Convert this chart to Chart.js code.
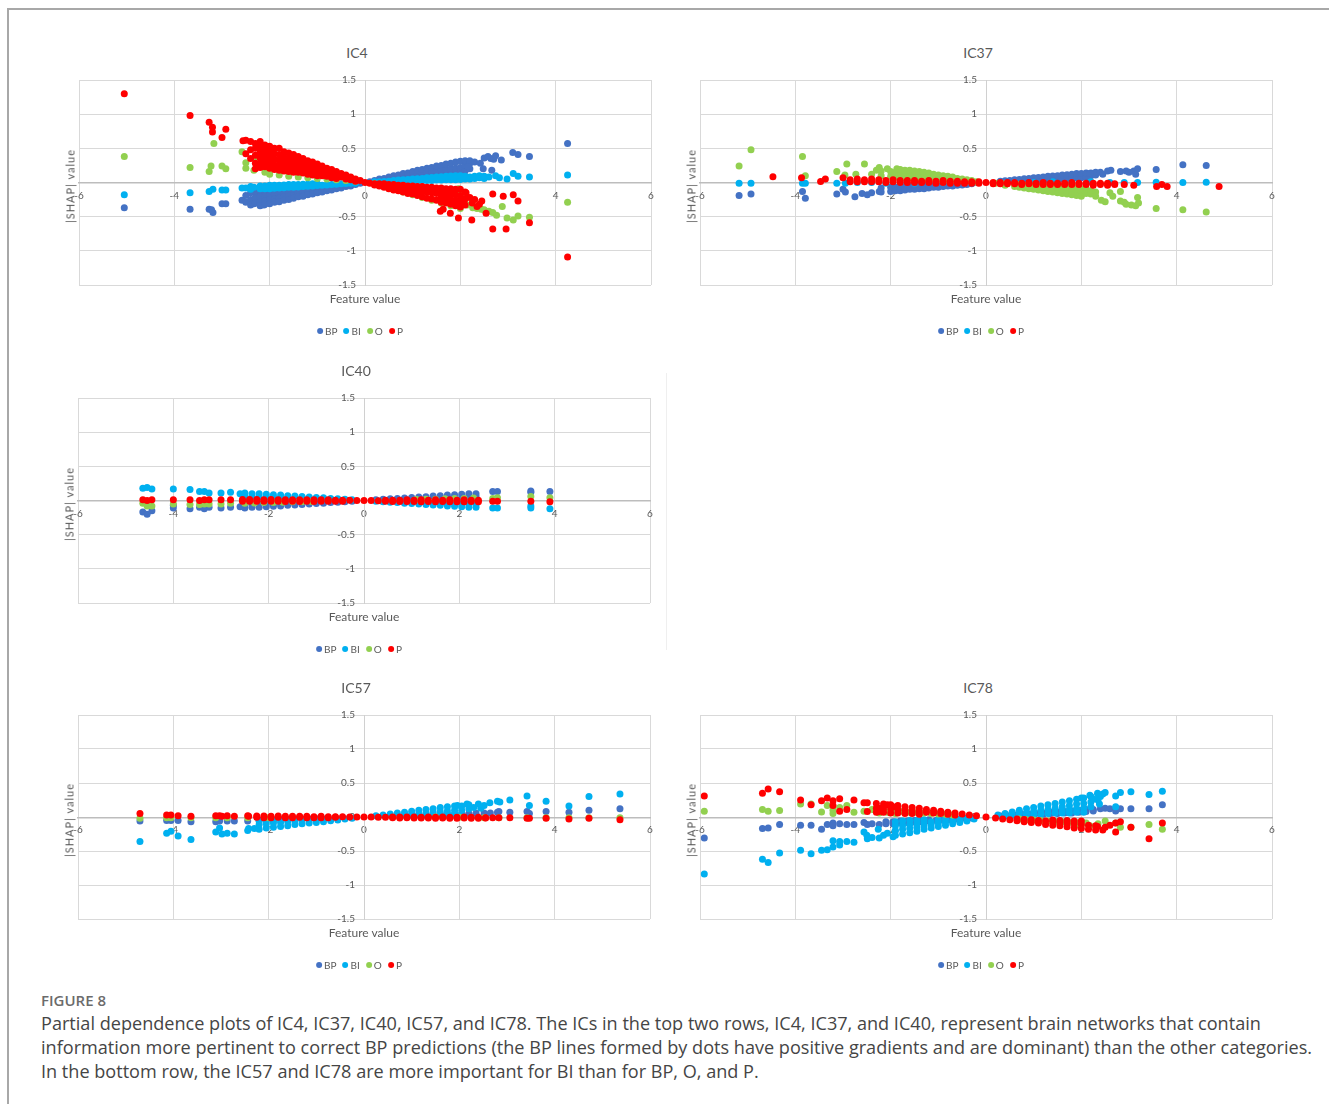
<!DOCTYPE html>
<html><head><meta charset="utf-8">
<script src="https://cdn.jsdelivr.net/npm/chart.js@4.4.1/dist/chart.umd.min.js"></script>
<style>
html,body{margin:0;padding:0;background:#fff;}
#page{position:relative;width:1329px;height:1104px;overflow:hidden;font-family:Lato,"Open Sans",sans-serif;}
#frame{position:absolute;left:7px;top:8px;right:-4px;bottom:-4px;border-left:2px solid #a8a8a8;border-top:2px solid #a8a8a8;}
.cv{position:absolute;}
.ttl{position:absolute;font-size:14px;color:#595959;transform:translate(-50%,-50%);white-space:nowrap;}
.xt{position:absolute;font-size:12px;color:#595959;transform:translate(-50%,-50%);white-space:nowrap;}
.yt{position:absolute;font-size:11px;letter-spacing:1px;color:#595959;transform:translate(-50%,-50%) rotate(-90deg);white-space:nowrap;}
.lg{position:absolute;transform:translate(-50%,-50%);font-size:10px;color:#595959;display:flex;align-items:center;white-space:nowrap;}
.lg .m{display:inline-block;width:6px;height:6px;border-radius:50%;margin-right:2px;}
.lg .t{margin-right:6px;}
.lg .t:last-child{margin-right:0;}
#sep{position:absolute;left:666px;top:373px;width:1px;height:277px;background:#efefef;}
#figlab{position:absolute;left:41px;top:990px;font-family:"Open Sans";font-size:15px;color:#6b6b6b;font-weight:600;}
#cap{position:absolute;left:41px;top:1011px;font-family:"Open Sans";font-size:18.1px;line-height:24px;color:#454545;white-space:nowrap;}
</style></head>
<body><div id="page"><div id="frame"></div><div id="sep"></div>
<div id="figlab">FIGURE 8</div>
<div id="cap">Partial dependence plots of IC4, IC37, IC40, IC57, and IC78. The ICs in the top two rows, IC4, IC37, and IC40, represent brain networks that contain<br>information more pertinent to correct BP predictions (the BP lines formed by dots have positive gradients and are dominant) than the other categories.<br>In the bottom row, the IC57 and IC78 are more important for BI than for BP, O, and P.</div>
</div>
<script>
// ---- categories and ticks ----
const categories = ['BP','BI','O','P'];
const xTicks = [-6,-4,-2,0,2,4,6];
const yTicks = [-1.5,-1,-0.5,0,0.5,1,1.5];
const chartTitles = ['IC4','IC37','IC40','IC57','IC78'];
// ---- data: each entry is [featureValue, shap1, shap2, ...] ----
const ic4BP = [[-5.05,-0.37],[-3.67,-0.39],[-3.27,-0.39],[-3.19,-0.44],[-3.22,-0.4],[-3.0,-0.31],[-2.92,-0.31],[-2.58,-0.26],[-2.5,-0.19,-0.29],[-2.33,-0.31],[-2.27,-0.2],[-2.12,-0.33],
[-2.4,-0.15,-0.25,-0.33],[-2.3,-0.14,-0.22,-0.3],[-2.2,-0.13,-0.21,-0.29,-0.34],[-2.1,-0.13,-0.2,-0.27,-0.32],[-2.0,-0.12,-0.19,-0.25,-0.31],[-1.9,-0.11,-0.18,-0.24,-0.29],[-1.8,-0.11,-0.17,-0.23,-0.28],[-1.7,-0.1,-0.16,-0.21,-0.26],[-1.6,-0.1,-0.15,-0.2,-0.25],[-1.5,-0.09,-0.14,-0.19,-0.23],[-1.4,-0.08,-0.14,-0.21],[-1.3,-0.08,-0.13,-0.2],[-1.2,-0.07,-0.12,-0.18],[-1.1,-0.07,-0.11,-0.17],[-1.0,-0.06,-0.1,-0.15],[-0.9,-0.05,-0.09,-0.14],[-0.8,-0.05,-0.08,-0.12],[-0.7,-0.04,-0.07,-0.11],[-0.6,-0.04,-0.09],[-0.5,-0.03,-0.08],[-0.4,-0.02,-0.06],[-0.3,-0.02,-0.05],[-0.2,-0.01,-0.03],[-0.1,-0.01],
[0.1,0.01],[0.2,0.015,0.03],[0.3,0.02,0.05],[0.4,0.03,0.06],[0.5,0.035,0.08],[0.6,0.04,0.07,0.1],[0.7,0.05,0.08,0.11],[0.8,0.06,0.09,0.13],[0.9,0.06,0.1,0.14],[1.0,0.07,0.11,0.16],[1.1,0.08,0.13,0.18],[1.2,0.08,0.14,0.19],[1.3,0.09,0.15,0.21],[1.4,0.1,0.16,0.22],[1.5,0.11,0.17,0.24],[1.6,0.11,0.18,0.25],[1.7,0.12,0.19,0.27],[1.8,0.13,0.2,0.28],[1.9,0.13,0.21,0.3],[2.0,0.14,0.22,0.31],[2.1,0.17,0.25,0.32],[2.2,0.2,0.28,0.32],
[2.16,0.23],[2.3,0.3],[2.42,0.28],[2.48,0.2],[2.5,0.36],[2.58,0.38],[2.64,0.35],[2.66,0.18],[2.7,0.34],[2.74,0.39],[2.86,0.33],[3.1,0.44],[3.21,0.41],[3.45,0.38],[4.25,0.57]];
const ic4BI = [[-5.05,-0.18],[-3.67,-0.15],[-3.27,-0.13],[-3.19,-0.1],[-3.0,-0.11],[-2.92,-0.11],[-2.58,-0.08],[-2.5,-0.08],[-2.33,-0.07],
[-2.4,-0.06,-0.1],[-2.2,-0.05,-0.09],[-2.1,-0.05,-0.09],[-2.0,-0.04,-0.09],[-1.9,-0.04,-0.085],[-1.8,-0.04,-0.08],[-1.7,-0.035,-0.075],[-1.6,-0.03,-0.07],[-1.5,-0.03,-0.07],[-1.4,-0.03,-0.065],[-1.3,-0.025,-0.06],[-1.2,-0.025,-0.055],[-1.1,-0.02,-0.05],[-1.0,-0.02,-0.045],[-0.9,-0.04],[-0.8,-0.035],[-0.7,-0.03],[-0.6,-0.025],[-0.5,-0.02],[-0.4,-0.015],[-0.3,-0.01],[-0.2,-0.01],
[0.2,0.01],[0.3,0.01],[0.4,0.015],[0.5,0.02],[0.6,0.02,0.03],[0.7,0.02,0.035],[0.8,0.02,0.04],[0.9,0.02,0.045],[1.0,0.02,0.05],[1.1,0.025,0.055],[1.2,0.03,0.06],[1.3,0.03,0.07],[1.4,0.03,0.075],[1.5,0.035,0.08],[1.6,0.035,0.085],[1.7,0.04,0.09],[1.8,0.04,0.095],[1.9,0.04,0.1],[2.0,0.045,0.1],[2.1,0.05,0.09],[2.2,0.05,0.08],[2.3,0.06,0.09],[2.4,0.07,0.1],[2.5,0.06,0.09],[2.6,0.08],
[2.74,0.1],[2.82,0.07],[2.98,0.05],[3.11,0.13],[3.21,0.09],[3.45,0.08],[4.25,0.11]];
const ic4O = [[-5.05,0.38],[-3.67,0.22],[-3.27,0.16],[-3.23,0.24],[-3.17,0.57],[-3.0,0.24],[-2.92,0.2],[-2.58,0.45],[-2.5,0.29,0.21],[-2.33,0.18],[-2.28,0.35],[-2.23,0.25],[-2.19,0.39],[-2.1,0.15],
[-2.0,0.12,0.24,0.33],[-1.8,0.11,0.2],[-1.6,0.09,0.19],[-1.4,0.08,0.17],[-1.2,0.07,0.14],[-1.0,0.06,0.12],[-0.8,0.05,0.1],[-0.6,0.04,0.07],[-0.4,0.03,0.05],[-0.2,0.02],
[0.2,-0.02],[0.4,-0.04],[0.6,-0.06,-0.1],[0.8,-0.08,-0.14],[1.0,-0.1,-0.18],[1.2,-0.12,-0.22],[1.4,-0.14,-0.26],[1.6,-0.15,-0.3],[1.8,-0.16,-0.34],[1.96,-0.09],[1.99,-0.29],[2.0,-0.18,-0.38],[2.05,-0.31],[2.15,-0.33],[2.26,-0.37],[2.35,-0.38],[2.44,-0.39],[2.5,-0.4],[2.6,-0.42],[2.68,-0.44],[2.76,-0.48],[2.88,-0.35],[2.98,-0.52],[3.11,-0.55],[3.21,-0.49],[3.45,-0.51],[4.25,-0.29]];
const ic4P = [[-5.05,1.3],[-3.67,0.98],[-3.27,0.88],[-3.2,0.81,0.74],[-3.0,0.66],[-2.92,0.78],[-2.56,0.61],[-2.5,0.62,0.42],
[-2.4,0.6,0.48,0.35],[-2.3,0.57,0.5,0.4,0.28,0.2],[-2.2,0.6,0.52,0.44,0.36,0.27,0.22],[-2.1,0.55,0.47,0.39,0.31,0.23],[-2.0,0.53,0.45,0.37,0.29,0.21],[-1.9,0.5,0.42,0.34,0.26,0.19],[-1.8,0.5,0.41,0.33,0.25,0.18],[-1.7,0.45,0.37,0.3,0.23,0.17],[-1.6,0.43,0.35,0.28,0.21,0.16],[-1.5,0.41,0.33,0.26,0.2,0.15],[-1.4,0.38,0.3,0.23,0.15],[-1.3,0.35,0.28,0.21,0.14],[-1.2,0.32,0.25,0.18,0.12],[-1.1,0.3,0.23,0.16,0.11],[-1.0,0.27,0.2,0.14,0.1],[-0.9,0.24,0.17,0.1],[-0.8,0.21,0.15,0.09],[-0.7,0.19,0.13,0.07],[-0.6,0.16,0.11,0.06],[-0.5,0.13,0.08],[-0.4,0.11,0.05],[-0.3,0.08,0.04],[-0.2,0.05,0.02],[-0.1,0.03],[0,0],
[0.1,-0.01],[0.2,-0.02,-0.035],[0.3,-0.02,-0.05],[0.4,-0.02,-0.07],[0.5,-0.03,-0.06,-0.09],[0.6,-0.03,-0.07,-0.11],[0.7,-0.04,-0.08,-0.12],[0.8,-0.04,-0.09,-0.14],[0.9,-0.05,-0.1,-0.16],[1.0,-0.05,-0.11,-0.17],[1.1,-0.06,-0.12,-0.19],[1.2,-0.06,-0.13,-0.21],[1.3,-0.07,-0.14,-0.23],[1.4,-0.07,-0.15,-0.24],[1.5,-0.08,-0.16,-0.26],[1.6,-0.08,-0.15,-0.22,-0.29],[1.7,-0.09,-0.16,-0.23,-0.3],[1.8,-0.09,-0.17,-0.25,-0.32],[1.9,-0.1,-0.18,-0.26,-0.34],[2.0,-0.1,-0.19,-0.27,-0.36],[2.1,-0.14,-0.24,-0.33],
[1.58,-0.42],[1.64,-0.39],[1.79,-0.45],[1.96,-0.52],[2.12,-0.15],[2.2,-0.22],[2.25,-0.3],[2.24,-0.55],[2.3,-0.25],[2.35,-0.35],[2.4,-0.32],[2.45,-0.27],[2.54,-0.45],[2.68,-0.17,-0.68],[2.9,-0.2],[2.96,-0.68],[3.11,-0.18],[3.21,-0.27],[3.45,-0.59],[4.25,-1.09]];

const ic37BP = [[-5.18,-0.19],[-4.93,-0.17],[-3.85,-0.13],[-3.79,-0.23],[-3.13,-0.17],[-3.0,-0.1],[-2.95,-0.14],[-2.75,-0.21],[-2.6,-0.16],[-2.49,-0.18],[-2.4,-0.15],[-2.24,-0.13],
[-2.2,-0.08,-0.14],[-2.0,-0.07,-0.13],[-1.9,-0.07,-0.12],[-1.8,-0.06,-0.12],[-1.7,-0.06,-0.11],[-1.6,-0.05,-0.1],[-1.5,-0.05,-0.1],[-1.4,-0.05,-0.09],[-1.3,-0.04,-0.09],[-1.2,-0.04,-0.08],[-1.1,-0.04,-0.07],[-1.0,-0.03,-0.07],[-0.9,-0.06],[-0.8,-0.05],[-0.7,-0.05],[-0.6,-0.04],[-0.5,-0.035],[-0.4,-0.03],[-0.3,-0.02],
[0.3,0.02],[0.4,0.025],[0.5,0.03],[0.6,0.04],[0.7,0.045],[0.8,0.03,0.055],[0.9,0.03,0.06],[1.0,0.035,0.07],[1.1,0.04,0.075],[1.2,0.04,0.08],[1.3,0.045,0.09],[1.4,0.05,0.095],[1.5,0.05,0.1],[1.6,0.055,0.11],[1.7,0.06,0.115],[1.8,0.06,0.12],[1.9,0.065,0.13],[2.0,0.07,0.13],[2.1,0.08,0.14],[2.2,0.1,0.14],[2.3,0.11,0.15],
[2.18,0.13],[2.4,0.15],[2.45,0.12],[2.55,0.17],[2.62,0.18],[2.82,0.16],[2.94,0.17],[3.0,0.15],[3.1,0.17],[3.14,0.12],[3.18,0.2],[3.57,0.19],[4.13,0.26],[4.62,0.25]];
const ic37BI = [[-5.18,-0.01],[-4.93,-0.01],[-3.85,-0.01],[-3.79,-0.01],[-3.13,-0.01],[-2.95,-0.01],[-2.7,0],[-2.4,0],[-2.1,-0.01],[-1.8,0],[-1.5,-0.01],[-1.2,0],[-0.9,0],[-0.6,0],[0.6,0],[1.0,0],[1.4,0.01],[1.8,0],[2.2,0.01],[2.6,0],[2.9,0],[3.18,0],[3.57,0.005],[4.13,0],[4.62,0.005]];
const ic37O = [[-5.18,0.24],[-4.93,0.48],[-3.85,0.38],[-3.79,0.1],[-3.13,0.16],[-2.96,0.11],[-2.92,0.27],[-2.73,0.12],[-2.55,0.27],[-2.4,0.12],[-2.3,0.18],[-2.24,0.22],[-2.07,0.2],[-1.87,0.2],
[-2.2,0.1,0.17],[-2.0,0.09,0.16],[-1.9,0.08,0.15],[-1.8,0.08,0.14,0.19],[-1.7,0.07,0.13,0.18],[-1.6,0.07,0.12,0.18],[-1.5,0.06,0.11,0.17],[-1.4,0.06,0.11,0.16],[-1.3,0.05,0.1,0.15],[-1.2,0.05,0.09,0.14],[-1.1,0.05,0.09,0.12],[-1.0,0.04,0.08,0.11],[-0.9,0.04,0.07,0.1],[-0.8,0.035,0.065,0.09],[-0.7,0.03,0.06,0.08],[-0.6,0.03,0.06],[-0.5,0.025,0.05],[-0.4,0.02,0.04],[-0.3,0.02,0.03],[-0.2,0.01],
[0.2,-0.01],[0.4,-0.02,-0.04],[0.6,-0.03,-0.06],[0.7,-0.03,-0.07],[0.8,-0.04,-0.08],[0.9,-0.04,-0.09],[1.0,-0.05,-0.1],[1.1,-0.05,-0.08,-0.11],[1.2,-0.05,-0.09,-0.12],[1.3,-0.06,-0.1,-0.13],[1.4,-0.06,-0.1,-0.14],[1.5,-0.07,-0.11,-0.15],[1.6,-0.07,-0.12,-0.16],[1.7,-0.07,-0.12,-0.17],[1.8,-0.08,-0.13,-0.18],[1.9,-0.08,-0.14,-0.19],[2.0,-0.09,-0.14,-0.2],[2.1,-0.1,-0.16],[2.2,-0.12,-0.17],[2.3,-0.14,-0.2],
[2.42,-0.26],[2.5,-0.28],[2.6,-0.15],[2.66,-0.2],[2.82,-0.13,-0.27],[2.9,-0.29],[2.94,-0.32],[3.05,-0.33],[3.14,-0.34],[3.18,-0.22],[3.2,-0.3],[3.57,-0.38],[4.13,-0.4],[4.62,-0.43]];
const ic37P = [[-4.47,0.085],[-3.87,0.07],[-3.47,0.015],[-3.37,0.05],[-3.0,0.07],[-2.85,0.04,0.01],[-2.7,0.05,0.01],[-2.55,0.04,0.01],[-2.4,0.05,0.01],[-2.25,0.04,0.01],[-2.1,0.03,0.0],[-1.95,0.04,0.01],[-1.8,0.03,0.0],[-1.65,0.03,0.0],[-1.5,0.03,0.0],[-1.35,0.02,0.0],[-1.2,0.03,0.0],[-1.05,0.02,-0.01],[-0.9,0.03,0.0],[-0.75,0.02,-0.01],[-0.6,0.02,-0.01],[-0.45,0.01,-0.01],[-0.3,0.01,-0.01],[-0.15,0.01,-0.01],[0,0],[0.15,0.0,-0.02],[0.3,0.0,-0.02],[0.45,0.0,-0.02],[0.6,0.0,-0.02],[0.75,-0.01,-0.03],[0.9,0.0,-0.02],[1.05,-0.01,-0.03],[1.2,0.0,-0.03],[1.35,-0.01,-0.03],[1.5,-0.01,-0.03],[1.65,-0.01,-0.03],[1.8,0.0,-0.03],[1.95,-0.01,-0.03],[2.1,-0.01,-0.03],[2.25,-0.01,-0.04],[2.4,-0.01,-0.03],[2.55,-0.01,-0.04],[2.7,-0.02,-0.03],[2.9,-0.03],[3.1,-0.04],[3.58,-0.06],[3.69,-0.03],[3.8,-0.06],[4.89,-0.06]];

const ic40BP = [[-4.64,-0.17],[-4.55,-0.2],[-4.45,-0.15],[-4.0,-0.11,-0.07],[-3.65,-0.12],[-3.45,-0.1],[-3.35,-0.12],[-3.25,-0.1],[-3.0,-0.11],[-2.8,-0.1],[-2.6,-0.09],
[-2.5,-0.11,-0.06],[-2.35,-0.1,-0.06],[-2.2,-0.1,-0.05],[-2.05,-0.09,-0.05],[-1.9,-0.085,-0.05],[-1.75,-0.08,-0.045],[-1.6,-0.07,-0.04],[-1.45,-0.065],[-1.3,-0.06],[-1.15,-0.05],[-1.0,-0.045],[-0.85,-0.04],[-0.7,-0.03],[-0.55,-0.025],[-0.4,-0.02],[-0.25,-0.01],
[0.25,0.01],[0.4,0.02],[0.55,0.025],[0.7,0.03],[0.85,0.035],[1.0,0.045],[1.15,0.05],[1.3,0.055],[1.45,0.065],[1.6,0.07,0.04],[1.75,0.08,0.045],[1.9,0.085,0.05],[2.05,0.09,0.05],[2.2,0.1,0.055],[2.35,0.1,0.06],
[2.7,0.13],[2.8,0.13],[3.5,0.14,0.12],[3.9,0.13]];
const ic40BI = [[-4.64,0.18],[-4.55,0.19],[-4.45,0.17],[-4.0,0.17],[-3.65,0.16],[-3.45,0.13],[-3.35,0.13],[-3.25,0.11],[-3.0,0.11],[-2.8,0.12],[-2.6,0.1],
[-2.5,0.11,0.06],[-2.35,0.1,0.06],[-2.2,0.1,0.055],[-2.05,0.09,0.05],[-1.9,0.085,0.05],[-1.75,0.08,0.045],[-1.6,0.07,0.04],[-1.45,0.065],[-1.3,0.06],[-1.15,0.05],[-1.0,0.045],[-0.85,0.04],[-0.7,0.03],[-0.55,0.025],[-0.4,0.02],[-0.25,0.01],
[0.25,-0.01],[0.4,-0.02],[0.55,-0.025],[0.7,-0.03],[0.85,-0.04],[1.0,-0.045],[1.15,-0.05],[1.3,-0.06],[1.45,-0.065],[1.6,-0.07,-0.04],[1.75,-0.08,-0.045],[1.9,-0.085,-0.05],[2.05,-0.09,-0.05],[2.2,-0.1,-0.055],[2.35,-0.1,-0.06],
[2.7,-0.11],[2.8,-0.11],[3.5,-0.11,-0.08],[3.9,-0.12]];
const ic40O = [[-4.64,-0.04],[-4.55,-0.08],[-4.45,-0.08],[-4.0,-0.05],[-3.65,-0.06],[-3.45,-0.06],[-3.35,-0.05],[-3.25,-0.05],[-3.0,-0.05],[-2.8,-0.04],
[-2.5,-0.04],[-2.3,-0.035],[-2.1,-0.03],[-1.9,-0.03],[-1.7,-0.025],[-1.5,-0.02],[-1.3,-0.02],[-1.1,-0.015],[1.1,0.015],[1.3,0.02],[1.5,0.02],[1.7,0.025],[1.9,0.03],[2.1,0.03],[2.3,0.035],
[2.7,0.03],[2.8,0.04],[3.5,0.06],[3.9,0.04]];
const ic40P = [[-4.64,0.01],[-4.55,0.0],[-4.45,0.01],[-4.0,0.01],[-3.65,0.01],[-3.45,0.0],[-3.35,0.01],[-3.25,0.01],[-3.0,0.01],[-2.8,0.01],
[-2.55,0.015,-0.01],[-2.4,0.015,-0.01],[-2.25,0.015,-0.01],[-2.1,0.01,-0.01],[-1.95,0.015,-0.01],[-1.8,0.01,-0.01],[-1.65,0.01,-0.015],[-1.5,0.01,-0.01],[-1.35,0.01,-0.015],[-1.2,0.01,-0.01],[-1.05,0.01,-0.015],[-0.9,0.01,-0.01],[-0.75,0.01,-0.01],[-0.6,0.005,-0.01],[-0.45,0.005,-0.01],[-0.3,0.005],[-0.15,0],[0,0],[0.15,0],[0.3,-0.005],[0.45,0.005,-0.01],[0.6,0.005,-0.015],[0.75,0.005,-0.015],[0.9,0.01,-0.015],[1.05,0.005,-0.015],[1.2,0.01,-0.02],[1.35,0.005,-0.015],[1.5,0.01,-0.02],[1.65,0.005,-0.015],[1.8,0.01,-0.02],[1.95,0.005,-0.02],[2.1,0.01,-0.02],[2.25,0.005,-0.015],[2.4,0.005,-0.02],
[2.7,-0.01],[2.8,-0.01],[3.5,-0.01],[3.9,-0.02]];

const ic57BP = [[-4.7,-0.06],[-4.14,-0.05],[-4.05,-0.05],[-3.9,-0.05],[-3.63,-0.07],[-3.11,-0.07],[-3.03,-0.06],[-2.87,-0.06],[-2.72,-0.06],[-2.44,-0.06],
[-2.2,-0.05],[-2.05,-0.05],[-1.9,-0.045],[-1.75,-0.04],[-1.6,-0.04],[-1.45,-0.035],[-1.3,-0.03],[-1.15,-0.03],[-1.0,-0.025],[1.0,0.025],[1.15,0.03],[1.3,0.03],[1.45,0.035],[1.6,0.04],[1.75,0.045],[1.9,0.045],[2.05,0.05],[2.2,0.05],[2.35,0.055],
[2.52,0.06],[2.65,0.06],[2.8,0.07],[2.83,0.08],[3.06,0.07],[3.42,0.08],[3.47,0.05],[3.82,0.08],[4.3,0.07],[4.72,0.1],[5.37,0.12]];
const ic57BI = [[-4.7,-0.36],[-4.14,-0.24],[-4.05,-0.21],[-3.9,-0.28],[-3.63,-0.33],[-3.11,-0.22],[-3.03,-0.16],[-2.98,-0.25],[-2.87,-0.24],[-2.72,-0.25],[-2.44,-0.2],[-2.42,-0.17],[-2.3,-0.17],
[-2.2,-0.18,-0.11,-0.06],[-2.05,-0.16,-0.1,-0.05],[-1.9,-0.15,-0.09,-0.05],[-1.75,-0.14,-0.08],[-1.6,-0.13,-0.07],[-1.45,-0.11,-0.06],[-1.3,-0.1,-0.05],[-1.15,-0.09,-0.045],[-1.0,-0.08,-0.04],[-0.85,-0.07,-0.03],[-0.7,-0.055],[-0.55,-0.045],[-0.4,-0.03],[-0.25,-0.02],
[0.25,0.02],[0.4,0.03],[0.55,0.045],[0.7,0.06],[0.85,0.07,0.03],[1.0,0.085,0.04],[1.15,0.1,0.05],[1.3,0.11,0.06],[1.45,0.12,0.07],[1.6,0.14,0.08,0.04],[1.75,0.15,0.09,0.04],[1.9,0.16,0.1,0.05],[2.05,0.16,0.1,0.05],[2.2,0.18,0.12],
[1.96,0.17],[2.16,0.19],[2.3,0.14],[2.4,0.19],[2.45,0.13],[2.52,0.17],[2.64,0.21],[2.8,0.23],[2.85,0.22],[3.06,0.25],[3.42,0.31],[3.47,0.17],[3.82,0.23],[4.3,0.16],[4.72,0.3],[5.37,0.34]];
const ic57O = [[-4.7,-0.02],[-4.14,-0.01],[-4.05,-0.01],[-3.63,-0.01],[-3.11,-0.01],[-2.87,-0.01],[-2.44,-0.01],[-2.0,-0.01],[-1.5,-0.005],[1.5,0.0],[2.0,-0.005],[2.52,-0.01],[2.83,-0.01],[3.42,-0.01],[3.82,-0.01],[4.3,-0.01],[4.72,-0.01],[5.37,-0.01]];
const ic57P = [[-4.7,0.05],[-4.14,0.03],[-4.05,0.03],[-3.9,0.02],[-3.63,0.01],[-3.11,0.02],[-3.03,0.02],[-2.98,0.01],[-2.87,0.02],[-2.72,0.01],[-2.44,0.02],[-2.42,0.01],
[-2.25,0.015,-0.005],[-2.1,0.015,-0.01],[-1.95,0.01,-0.01],[-1.8,0.015,-0.005],[-1.65,0.01,-0.01],[-1.5,0.01,-0.01],[-1.35,0.01,-0.005],[-1.2,0.01,-0.01],[-1.05,0.005,-0.01],[-0.9,0.01,-0.01],[-0.75,0.005,-0.01],[-0.6,0.005,-0.005],[-0.45,0.005],[-0.3,0],[-0.15,0],[0,0],[0.15,0],[0.3,-0.005],[0.45,-0.005],[0.6,0,-0.01],[0.75,0,-0.015],[0.9,0,-0.01],[1.05,0,-0.015],[1.2,-0.005,-0.015],[1.35,0,-0.015],[1.5,-0.005,-0.02],[1.65,0,-0.015],[1.8,-0.005,-0.02],[1.95,-0.005,-0.02],[2.1,0,-0.015],[2.25,-0.005,-0.02],[2.4,-0.005,-0.02],[2.55,-0.01,-0.015],[2.7,-0.01],
[2.83,-0.01],[3.06,-0.01],[3.42,-0.02],[3.47,-0.02],[3.82,-0.02],[4.3,-0.03],[4.72,-0.02],[5.37,-0.04]];

const ic78BP = [[-5.91,-0.31],[-4.69,-0.17],[-4.57,-0.16],[-4.33,-0.11],[-3.89,-0.12],[-3.67,-0.12],[-3.45,-0.18],[-3.33,-0.11],[-3.21,-0.09,-0.13],[-3.07,-0.1],[-2.92,-0.11],[-2.77,-0.11],[-2.56,-0.08],[-2.49,-0.11],[-2.39,-0.1],[-2.24,-0.11],
[-2.1,-0.1,-0.07],[-1.95,-0.1,-0.07],[-1.8,-0.09,-0.06],[-1.65,-0.08,-0.06],[-1.5,-0.075,-0.05],[-1.35,-0.07,-0.05],[-1.2,-0.06,-0.04],[-1.05,-0.05],[-0.9,-0.045],[-0.75,-0.04],[-0.6,-0.03],[-0.45,-0.02],[-0.3,-0.015],
[0.3,0.015],[0.45,0.02],[0.6,0.03],[0.75,0.04],[0.9,0.045],[1.05,0.05],[1.2,0.06,0.04],[1.35,0.07,0.05],[1.5,0.075,0.05],[1.65,0.08,0.06],[1.8,0.09,0.06],[1.95,0.1,0.07],[2.1,0.11,0.08],[2.25,0.11,0.09],[2.4,0.12],
[2.5,0.13],[2.6,0.12],[2.72,0.09],[2.82,0.12],[3.04,0.12],[3.42,0.12],[3.7,0.18]];
const ic78BI = [[-5.91,-0.84],[-4.69,-0.62],[-4.57,-0.67],[-4.33,-0.53],[-3.89,-0.49],[-3.67,-0.54],[-3.45,-0.49],[-3.33,-0.48],[-3.21,-0.44,-0.35],[-3.07,-0.36,-0.41],[-2.92,-0.36],[-2.77,-0.37],[-2.56,-0.22],[-2.5,-0.27],[-2.49,-0.32],[-2.39,-0.3],[-2.26,-0.18],[-2.24,-0.31],[-2.15,-0.27],[-2.07,-0.24],[-1.95,-0.29],[-1.91,-0.21],
[-1.9,-0.27,-0.2,-0.13,-0.07],[-1.75,-0.25,-0.18,-0.12,-0.06],[-1.6,-0.23,-0.17,-0.11,-0.05],[-1.45,-0.21,-0.15,-0.1,-0.05],[-1.3,-0.18,-0.13,-0.08,-0.04],[-1.15,-0.16,-0.11,-0.07],[-1.0,-0.14,-0.09,-0.04],[-0.85,-0.12,-0.08,-0.03],[-0.7,-0.1,-0.06],[-0.55,-0.08,-0.04],[-0.4,-0.06,-0.02],[-0.25,-0.03],
[0.25,0.03],[0.4,0.05,0.02],[0.55,0.075,0.03],[0.7,0.1,0.05],[0.85,0.12,0.06,0.03],[1.0,0.14,0.08,0.035],[1.15,0.16,0.1,0.04],[1.3,0.18,0.11,0.05],[1.45,0.2,0.13,0.06],[1.6,0.22,0.15,0.1,0.06],[1.75,0.24,0.17,0.11,0.06],[1.9,0.26,0.19,0.12,0.07],[2.05,0.28,0.2,0.13,0.07],[2.2,0.3,0.22,0.15],[2.35,0.33,0.25],
[2.0,0.28],[2.18,0.32],[2.25,0.26],[2.34,0.35],[2.38,0.19],[2.4,0.3],[2.45,0.34],[2.5,0.36],[2.72,0.31,0.15],[2.82,0.36],[3.04,0.37],[3.42,0.33],[3.7,0.38]];
const ic78O = [[-5.91,0.085],[-4.69,0.11],[-4.57,0.085],[-4.33,0.095],[-3.89,0.19],[-3.67,0.19],[-3.45,0.075],[-3.33,0.17],[-3.21,0.1,0.05],[-3.07,0.14],[-2.92,0.17],[-2.77,0.07],[-2.56,0.085],[-2.39,0.11],[-2.24,0.06],[-2.07,0.07],
[-1.9,0.09,0.05],[-1.75,0.08],[-1.6,0.07],[-1.45,0.065],[-1.3,0.06],[-1.15,0.05],[-1.0,0.045],[-0.85,0.04],[-0.7,0.03],[0.7,-0.03],[0.85,-0.04],[1.0,-0.045],[1.15,-0.05],[1.3,-0.06],[1.45,-0.065],[1.6,-0.07],[1.75,-0.08],[1.9,-0.085,-0.11],[2.05,-0.09],[2.1,-0.09],[2.18,-0.13],[2.35,-0.1],
[2.5,-0.06],[2.72,-0.09],[2.82,-0.15],[3.04,-0.15],[3.42,-0.11],[3.7,-0.18]];
const ic78P = [[-5.91,0.31],[-4.69,0.35],[-4.57,0.41],[-4.33,0.37],[-3.89,0.25],[-3.67,0.18],[-3.45,0.24],[-3.33,0.28],[-3.21,0.24,0.17],[-3.07,0.27,0.085],[-2.92,0.11],[-2.77,0.25],[-2.56,0.21],[-2.49,0.21,0.08],[-2.24,0.13,0.08],[-2.07,0.18],[-1.95,0.15],
[-2.3,0.2,0.13,0.07],[-2.15,0.19,0.12,0.07],[-2.0,0.18,0.12,0.06],[-1.85,0.17,0.11,0.06],[-1.7,0.15,0.1,0.05],[-1.55,0.14,0.09,0.05],[-1.4,0.13,0.08,0.04],[-1.25,0.11,0.07],[-1.1,0.1,0.06],[-0.95,0.085,0.05],[-0.8,0.07,0.04],[-0.65,0.06,0.03],[-0.5,0.045],[-0.35,0.03],[-0.2,0.02],[0,0],
[0.2,-0.015],[0.35,-0.03],[0.5,-0.04],[0.65,-0.055,-0.03],[0.8,-0.07,-0.035],[0.95,-0.08,-0.04],[1.1,-0.09,-0.05],[1.25,-0.11,-0.06],[1.4,-0.12,-0.07,-0.045],[1.55,-0.13,-0.08,-0.05],[1.7,-0.145,-0.09,-0.05],[1.85,-0.16,-0.1,-0.06],[2.0,-0.17,-0.11,-0.06],[2.15,-0.18,-0.12],[2.3,-0.19,-0.13],
[2.34,-0.14],[2.45,-0.19],[2.5,-0.15],[2.6,-0.12],[2.72,-0.09,-0.22],[2.82,-0.07],[3.04,-0.15],[3.42,-0.32],[3.7,-0.09]];

// ---- styles / layout (not data) ----
const seriesColors = ['#4472C4','#00B0F0','#92D050','#FF0000'];
const chartSpecs = [
  {title:chartTitles[0], L:79,  T:77,  R:651,  B:288, series:[ic4BP,ic4BI,ic4O,ic4P]},
  {title:chartTitles[1], L:700, T:77,  R:1272, B:288, series:[ic37BP,ic37BI,ic37O,ic37P]},
  {title:chartTitles[2], L:78,  T:395, R:650,  B:606, series:[ic40BP,ic40BI,ic40O,ic40P]},
  {title:chartTitles[3], L:78,  T:712, R:650,  B:922, series:[ic57BP,ic57BI,ic57O,ic57P]},
  {title:chartTitles[4], L:700, T:712, R:1272, B:922, series:[ic78BP,ic78BI,ic78O,ic78P]}
];
const PADX = 25, PADY = 12;
const page = document.getElementById('page');
function el(tag, cls, css, html){const e=document.createElement(tag); if(cls) e.className=cls; Object.assign(e.style, css||{}); if(html!==undefined) e.innerHTML=html; page.appendChild(e); return e;}
function expand(cols){const out=[]; cols.forEach(c=>{for(let i=1;i<c.length;i++) out.push({x:c[0], y:c[i]});}); return out;}
const tickFont = {family:'Lato, "Open Sans", sans-serif', size:10};

chartSpecs.forEach((s, idx) => {
  const cx = (s.L + s.R) / 2, cy = (s.T + s.B) / 2;
  const cv = document.createElement('canvas');
  cv.className = 'cv';
  cv.width = s.R - s.L + 2*PADX; cv.height = s.B - s.T + 2*PADY;
  cv.style.left = (s.L - PADX) + 'px'; cv.style.top = (s.T - PADY) + 'px';
  cv.style.width = cv.width + 'px'; cv.style.height = cv.height + 'px';
  page.appendChild(cv);
  el('div','ttl',{left:(cx-8)+'px', top:(s.T-25)+'px'}, s.title);
  el('div','xt',{left:cx+'px', top:(s.B+10)+'px'}, 'Feature value');
  el('div','yt',{left:(s.L-9)+'px', top:(cy+3)+'px'}, '|SHAP| value');
  const lg = el('div','lg',{left:(cx-5)+'px', top:(s.B+43)+'px'});
  lg.innerHTML = categories.map((c,i)=>`<span class="m" style="background:${seriesColors[i]}"></span><span class="t">${c}</span>`).join('');
  new Chart(cv, {
    type:'scatter',
    data:{datasets: s.series.map((d,i)=>({
      label:categories[i], data:expand(d), order:3-i,
      backgroundColor:seriesColors[i], borderColor:seriesColors[i],
      pointRadius:3.5, pointBorderWidth:0, pointHoverRadius:0
    }))},
    options:{
      responsive:false, animation:false, devicePixelRatio:1, events:[],
      layout:{padding:{left:PADX,right:PADX,top:PADY,bottom:PADY}},
      plugins:{legend:{display:false}, tooltip:{enabled:false}, title:{display:false}},
      scales:{
        x:{type:'linear', min:-6, max:6, position:'center',
           afterBuildTicks: a => { a.ticks = xTicks.map(v=>({value:v})); },
           ticks:{color:'#595959', font:tickFont, padding:7, autoSkip:false, maxRotation:0, callback:v=>String(v)},
           grid:{color:'#d9d9d9', lineWidth:1, drawTicks:false},
           border:{color:'#bdbdbd', width:1.5}},
        y:{type:'linear', min:-1.5, max:1.5, position:'center',
           afterBuildTicks: a => { a.ticks = yTicks.map(v=>({value:v})); },
           ticks:{color:'#595959', font:tickFont, padding:9, autoSkip:false, callback:v=>String(Math.round(v*10)/10)},
           grid:{color:'#d9d9d9', lineWidth:1, drawTicks:false},
           border:{color:'#d0d0d0', width:1}}
      }
    }
  });
});
</script>
</body></html>
